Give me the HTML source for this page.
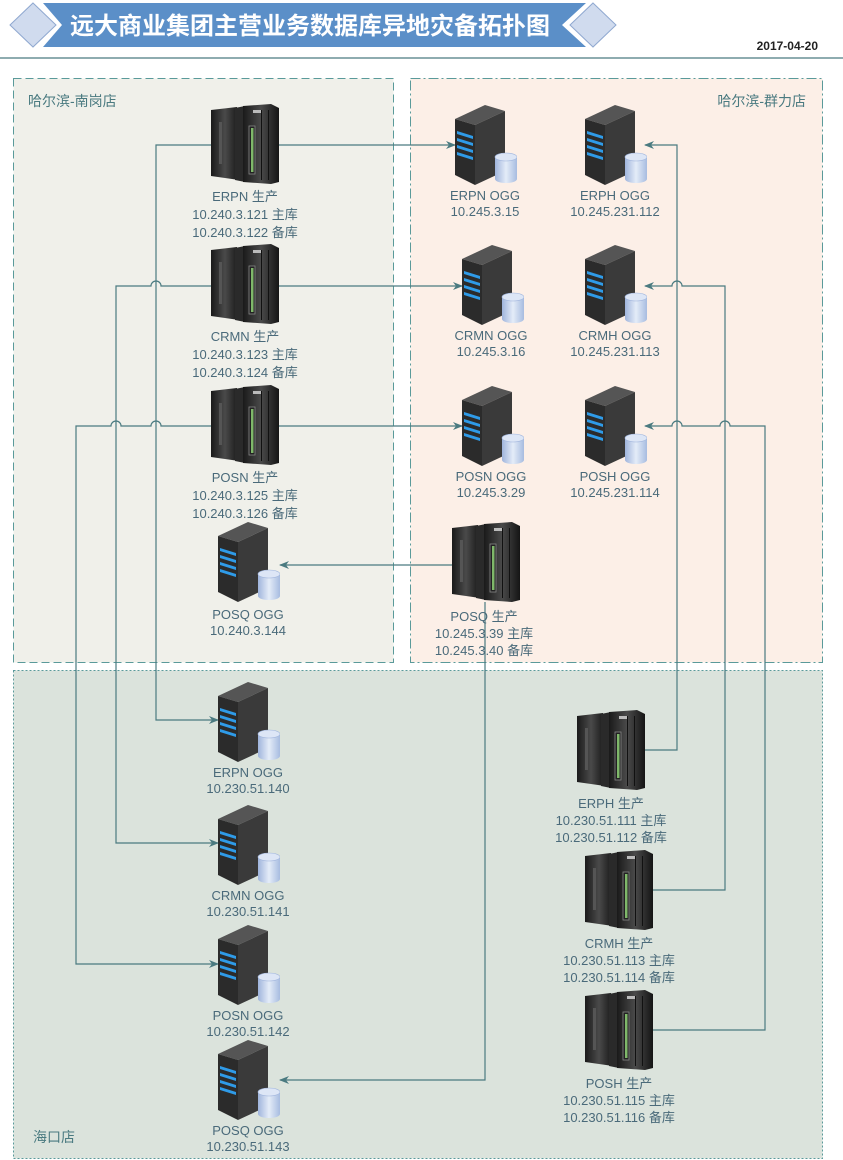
<!DOCTYPE html>
<html><head><meta charset="utf-8"><style>
body{margin:0;background:#fff;}
svg{display:block;}
text{font-family:"Liberation Sans","Noto Sans CJK SC",sans-serif;}
</style></head><body>
<svg width="843" height="1160" viewBox="0 0 843 1160" xmlns="http://www.w3.org/2000/svg">
<defs>
<linearGradient id="cab" x1="0" x2="1"><stop offset="0" stop-color="#1a1a1a"/><stop offset="0.5" stop-color="#4a4a4a"/><stop offset="1" stop-color="#151515"/></linearGradient>
<linearGradient id="cyl" x1="0" x2="1"><stop offset="0" stop-color="#9fb4dc"/><stop offset="0.5" stop-color="#e4ecf8"/><stop offset="1" stop-color="#a7bce0"/></linearGradient>
<marker id="ar" markerWidth="10" markerHeight="8" refX="9" refY="4" orient="auto" markerUnits="userSpaceOnUse"><path d="M0,0 L10,4 L0,8 L3,4 Z" fill="#4a7a80"/></marker>
<symbol id="mf" viewBox="0 0 68 80">
<polygon points="0,6 26,3 28,76 0,72" fill="url(#cab)"/>
<rect x="8" y="18" width="3" height="42" fill="#555"/>
<polygon points="24,4 34,2 34,78 24,76" fill="#2a2a2a"/>
<polygon points="32,2 60,0 68,4 68,78 60,80 32,78" fill="url(#cab)"/>
<rect x="38" y="22" width="6" height="48" fill="#222" stroke="#888" stroke-width="0.8"/>
<rect x="40" y="24" width="2.5" height="44" fill="#7fb86a"/>
<rect x="50" y="6" width="1" height="70" fill="#111"/>
<rect x="57" y="6" width="1" height="70" fill="#111"/>
<rect x="42" y="6" width="8" height="3" fill="#bbb"/>
</symbol>
<symbol id="sv" viewBox="0 0 62 80">
<polygon points="0,14 30,0 50,6 20,20" fill="#555"/>
<polygon points="0,14 20,20 20,80 0,70" fill="#2b2b2b"/>
<polygon points="20,20 50,6 50,66 20,80" fill="#3a3a3a"/>
<g fill="#2f9be8"><polygon points="2,26 18,31 18,34 2,29"/><polygon points="2,33 18,38 18,41 2,36"/><polygon points="2,40 18,45 18,48 2,43"/><polygon points="2,47 18,52 18,55 2,50"/></g>
<path d="M40,52 v22 a11,4 0 0 0 22,0 v-22 Z" fill="url(#cyl)"/>
<ellipse cx="51" cy="52" rx="11" ry="4" fill="#dde6f6" stroke="#9fb4dc" stroke-width="0.6"/>
</symbol>
</defs>

<polygon points="43,3 586,3 562,25 586,47 43,47 62,25" fill="#5b8fc8"/>
<polygon points="33,3 56,25 33,47 10,25" fill="#d0dbee" stroke="#8fa8d0"/>
<polygon points="593,3 616,25 593,47 570,25" fill="#d0dbee" stroke="#8fa8d0"/>
<text x="310" y="34" text-anchor="middle" font-size="24" font-weight="bold" fill="#fff">远大商业集团主营业务数据库异地灾备拓扑图</text>
<text x="818" y="50" text-anchor="end" font-size="12" font-weight="bold" fill="#222">2017-04-20</text>
<line x1="0" y1="58" x2="843" y2="58" stroke="#4a7a80" stroke-width="1.2"/>

<rect x="13.5" y="78.5" width="380" height="584" fill="#f0f0ea" stroke="#5a9a9a" stroke-dasharray="8,4"/>
<rect x="410.5" y="78.5" width="412" height="584" fill="#fcefe7" stroke="#5a9a9a" stroke-dasharray="10,3,2,3"/>
<rect x="13.5" y="670.5" width="809" height="488" fill="#dbe3dc" stroke="#5a9a9a" stroke-dasharray="2,2"/>
<text x="28" y="106" font-size="14" fill="#4a7a80">哈尔滨-南岗店</text>
<text x="806" y="106" text-anchor="end" font-size="14" fill="#4a7a80">哈尔滨-群力店</text>
<text x="33" y="1142" font-size="14" fill="#4a7a80">海口店</text>

<g fill="none" stroke="#4a7a80" stroke-width="1.2">
<path d="M279,145 H455" marker-end="url(#ar)"/>
<path d="M211,145 H156 V720 H218" marker-end="url(#ar)"/>
<path d="M279,286 H462" marker-end="url(#ar)"/>
<path d="M211,286 H161 a5,5 0 0 0 -10,0 H116 V843 H218" marker-end="url(#ar)"/>
<path d="M279,426 H462" marker-end="url(#ar)"/>
<path d="M211,426 H161 a5,5 0 0 0 -10,0 H121 a5,5 0 0 0 -10,0 H76 V964 H218" marker-end="url(#ar)"/>
<path d="M452,565 H280" marker-end="url(#ar)"/>
<path d="M485,602 V1080 H280" marker-end="url(#ar)"/>
<path d="M645,750 H677 V145 H645" marker-end="url(#ar)"/>
<path d="M653,890 H725 V286 H682 a5,5 0 0 0 -10,0 H645" marker-end="url(#ar)"/>
<path d="M653,1030 H765 V426 H730 a5,5 0 0 0 -10,0 H682 a5,5 0 0 0 -10,0 H645" marker-end="url(#ar)"/>
</g>

<use href="#mf" x="211" y="104" width="68" height="80"/>
<use href="#mf" x="211" y="244" width="68" height="80"/>
<use href="#mf" x="211" y="385" width="68" height="80"/>
<use href="#mf" x="452" y="522" width="68" height="80"/>
<use href="#mf" x="577" y="710" width="68" height="80"/>
<use href="#mf" x="585" y="850" width="68" height="80"/>
<use href="#mf" x="585" y="990" width="68" height="80"/>

<use href="#sv" x="455" y="105" width="62" height="80"/>
<use href="#sv" x="585" y="105" width="62" height="80"/>
<use href="#sv" x="462" y="245" width="62" height="80"/>
<use href="#sv" x="585" y="245" width="62" height="80"/>
<use href="#sv" x="462" y="386" width="62" height="80"/>
<use href="#sv" x="585" y="386" width="62" height="80"/>
<use href="#sv" x="218" y="522" width="62" height="80"/>
<use href="#sv" x="218" y="682" width="62" height="80"/>
<use href="#sv" x="218" y="805" width="62" height="80"/>
<use href="#sv" x="218" y="925" width="62" height="80"/>
<use href="#sv" x="218" y="1040" width="62" height="80"/>

<g font-size="13" fill="#4a6a7a" text-anchor="middle">
<text x="245" y="201">ERPN 生产</text><text x="245" y="219">10.240.3.121 主库</text><text x="245" y="237">10.240.3.122 备库</text>
<text x="245" y="341">CRMN 生产</text><text x="245" y="359">10.240.3.123 主库</text><text x="245" y="377">10.240.3.124 备库</text>
<text x="245" y="482">POSN 生产</text><text x="245" y="500">10.240.3.125 主库</text><text x="245" y="518">10.240.3.126 备库</text>
<text x="248" y="619">POSQ OGG</text><text x="248" y="635">10.240.3.144</text>
<text x="485" y="200">ERPN OGG</text><text x="485" y="216">10.245.3.15</text>
<text x="615" y="200">ERPH OGG</text><text x="615" y="216">10.245.231.112</text>
<text x="491" y="340">CRMN OGG</text><text x="491" y="356">10.245.3.16</text>
<text x="615" y="340">CRMH OGG</text><text x="615" y="356">10.245.231.113</text>
<text x="491" y="481">POSN OGG</text><text x="491" y="497">10.245.3.29</text>
<text x="615" y="481">POSH OGG</text><text x="615" y="497">10.245.231.114</text>
<text x="484" y="621">POSQ 生产</text><text x="484" y="638">10.245.3.39 主库</text><text x="484" y="655">10.245.3.40 备库</text>
<text x="248" y="777">ERPN OGG</text><text x="248" y="793">10.230.51.140</text>
<text x="248" y="900">CRMN OGG</text><text x="248" y="916">10.230.51.141</text>
<text x="248" y="1020">POSN OGG</text><text x="248" y="1036">10.230.51.142</text>
<text x="248" y="1135">POSQ OGG</text><text x="248" y="1151">10.230.51.143</text>
<text x="611" y="808">ERPH 生产</text><text x="611" y="825">10.230.51.111 主库</text><text x="611" y="842">10.230.51.112 备库</text>
<text x="619" y="948">CRMH 生产</text><text x="619" y="965">10.230.51.113 主库</text><text x="619" y="982">10.230.51.114 备库</text>
<text x="619" y="1088">POSH 生产</text><text x="619" y="1105">10.230.51.115 主库</text><text x="619" y="1122">10.230.51.116 备库</text>
</g>
</svg>
</body></html>
